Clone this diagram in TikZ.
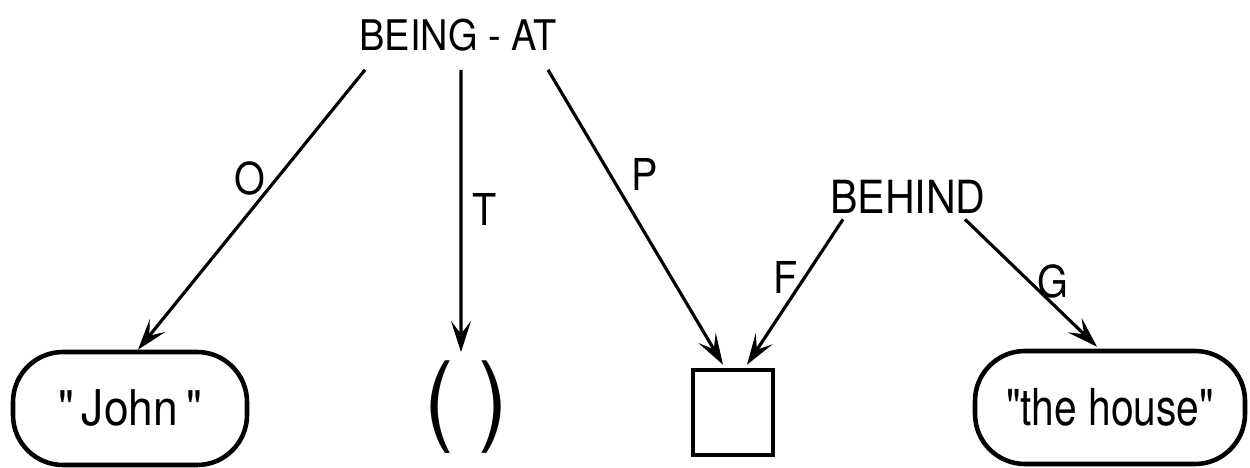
\documentclass[tikz,border=0pt]{standalone}
\usepackage{fontspec}
\setmainfont{TeX Gyre Heros}
\newfontfamily\lettering[FakeStretch=0.9]{TeX Gyre Heros}
\newfontfamily\narrowlettering[FakeStretch=0.8]{TeX Gyre Heros}
\usetikzlibrary{arrows.meta,positioning}

\begin{document}
\begin{tikzpicture}[
  word/.style={inner sep=0.5mm,font={\lettering\fontsize{12.5}{14}\selectfont}},
  casebox/.style={draw,line width=1.3pt,rounded corners=5mm,minimum height=1.13cm,inner sep=0pt},
  rel/.style={line width=0.9pt,-{Stealth[length=3.1mm,width=2mm,inset=1.3mm]}}
]
\useasboundingbox (0,0) rectangle (12.5,-4.68);
% predicates
\node[word,font={\lettering\fontsize{12}{14}\selectfont}](beingat) at (4.58,-0.35){BEING - AT};
\node[word,font={\lettering\fontsize{13}{15}\selectfont}](behind) at (9.08,-1.97){BEHIND};
% fillers
\node[casebox,minimum width=2.34cm,font={\lettering\fontsize{14}{16}\selectfont}](john) at (1.30,-4.085){"\,John\,"};
\node[inner sep=0pt,font={\lettering\fontsize{28}{30}\selectfont}](time) at (4.66,-4.07){( )};
\node[draw,line width=1.3pt,minimum width=0.8cm,minimum height=0.85cm](place) at (7.33,-4.125){};
\node[casebox,minimum width=2.70cm,font={\narrowlettering\fontsize{14.5}{16}\selectfont}](house) at (11.10,-4.075){"the house"};
% relations
\draw[rel]([xshift=-9.3mm,yshift=-1.3mm]beingat.south)--([xshift=0.8mm]john.north);
\draw[rel]([xshift=0.3mm,yshift=-1.3mm]beingat.south)--([xshift=-0.5mm,yshift=0.8mm]time.north);
\draw[rel]([xshift=9mm,yshift=-1.3mm]beingat.south)--([xshift=-1mm,yshift=0.3mm]place.north);
\draw[rel]([xshift=-6.5mm]behind.south)--([xshift=1.4mm,yshift=0.3mm]place.north);
\draw[rel]([xshift=5.7mm]behind.south)--([xshift=-1.3mm,yshift=0.2mm]house.north);
% case labels
\node[word](o) at (2.50,-1.78){O};
\node[word](t) at (4.85,-2.09){T};
\node[word](p) at (6.45,-1.74){P};
\node[word](f) at (7.86,-2.77){F};
\node[word](g) at (10.53,-2.81){G};
\end{tikzpicture}
\end{document}
